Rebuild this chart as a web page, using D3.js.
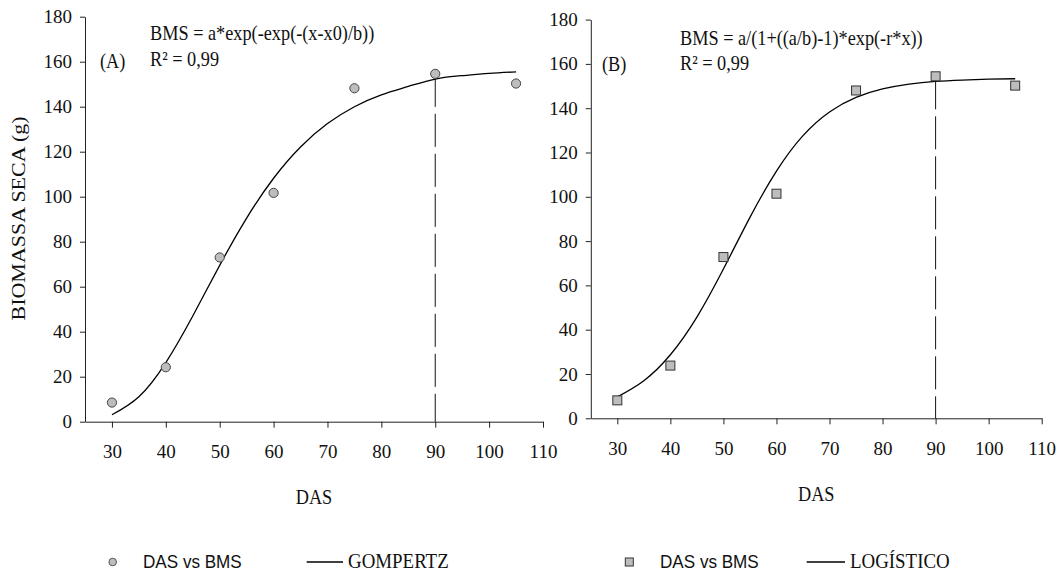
<!DOCTYPE html>
<html>
<head>
<meta charset="utf-8">
<script src="https://cdn.jsdelivr.net/npm/d3@7"></script>
<style>
  body { margin: 0; background: #fff; }
  svg { display: block; }
</style>
</head>
<body>
<svg id="drawing_region"></svg>
<script>
const das = [30, 40, 50, 60, 75, 90, 105];
const bmsA = [8.5, 24.2, 73.0, 101.7, 148.2, 154.6, 150.3];
const bmsB = [8.1, 23.8, 72.8, 101.4, 148.0, 154.4, 150.2];

// fitted curves, read every 5 days along the drawn line
const curveDas = [30, 35, 40, 45, 50, 55, 60, 65, 70, 75, 80, 85, 90, 95, 100, 105];
const gompertzBms = [3.1, 11.1, 26.3, 47.0, 69.5, 90.5, 108.2, 122.1, 132.5, 140.0, 145.3, 149.0, 152.3, 153.8, 154.8, 155.5];
const logisticBms = [9.7, 17.0, 28.7, 45.7, 67.4, 90.7, 111.6, 127.6, 138.3, 144.9, 148.7, 150.9, 152.1, 152.7, 153.1, 153.3];

const xTicks = [30, 40, 50, 60, 70, 80, 90, 100, 110];
const yTicks = [0, 20, 40, 60, 80, 100, 120, 140, 160, 180];

const SERIF = '"Liberation Serif", "Times New Roman", serif';
const SANS = '"Liberation Sans", Arial, sans-serif';

const svg = d3.select('#drawing_region')
  .attr('width', 1061)
  .attr('height', 574);

// text in the original is a bit narrow, squeeze it horizontally
function putText(g, str, x, y, opts) {
  opts = opts || {};
  return g.append('text')
    .attr('transform', `translate(${x},${y}) scale(${opts.sx || 0.87},1)`)
    .attr('font-family', opts.font || SERIF)
    .attr('font-size', opts.size || 21)
    .attr('text-anchor', opts.anchor || 'start')
    .attr('fill', '#111')
    .text(str);
}

class FitPanel {

  constructor( config, data ) {
    this.config = config;
    this.data = data;
    this.init();
  }

  init() {
    let self = this;

    self.g = svg.append('g');

    self.xscale = d3.scaleLinear()
      .domain([25, 110])
      .range(self.config.xrange);

    self.yscale = d3.scaleLinear()
      .domain([0, 180])
      .range(self.config.yrange);

    self.xaxis = d3.axisBottom(self.xscale)
      .tickValues(xTicks)
      .tickSizeInner(6)
      .tickSizeOuter(0)
      .tickPadding(17);

    self.yaxis = d3.axisLeft(self.yscale)
      .tickValues(yTicks)
      .tickSizeInner(5)
      .tickSizeOuter(0)
      .tickPadding(8);
  }

  render() {
    let self = this;
    const c = self.config;

    const xa = self.g.append('g')
      .attr('transform', `translate(0, ${c.yrange[0]})`)
      .call(self.xaxis);
    const ya = self.g.append('g')
      .attr('transform', `translate(${c.xrange[0]}, 0)`)
      .call(self.yaxis);

    [xa, ya].forEach(a => {
      a.attr('font-family', SERIF);
      a.selectAll('path, line').attr('stroke', '#222').attr('stroke-width', 1);
      a.selectAll('text')
        .attr('font-family', SERIF)
        .attr('font-size', 19)
        .attr('fill', '#111');
    });

    // dashed marker at 90 days
    const i90 = das.indexOf(90);
    self.g.append('line')
      .attr('x1', self.xscale(90))
      .attr('x2', self.xscale(90))
      .attr('y1', self.yscale(self.data.points[i90]))
      .attr('y2', self.yscale(0))
      .attr('stroke', '#111')
      .attr('stroke-width', 1)
      .attr('stroke-dasharray', '33,7');

    // fitted line
    const line = d3.line()
      .x((d, i) => self.xscale(curveDas[i]))
      .y(d => self.yscale(d))
      .curve(d3.curveNatural);

    self.g.append('path')
      .datum(self.data.curve)
      .attr('d', line)
      .attr('fill', 'none')
      .attr('stroke', '#000')
      .attr('stroke-width', 1.3);

    // observations
    const pts = das.map((d, i) => ({ x: d, y: self.data.points[i] }));
    if (c.marker === 'circle') {
      self.g.selectAll('.pt')
        .data(pts)
        .enter()
        .append('circle')
        .attr('cx', d => self.xscale(d.x))
        .attr('cy', d => self.yscale(d.y))
        .attr('r', 4.6)
        .attr('fill', '#bdbdbd')
        .attr('stroke', '#444')
        .attr('stroke-width', 1);
    } else {
      self.g.selectAll('.pt')
        .data(pts)
        .enter()
        .append('rect')
        .attr('x', d => self.xscale(d.x) - 4.5)
        .attr('y', d => self.yscale(d.y) - 4.5)
        .attr('width', 9)
        .attr('height', 9)
        .attr('fill', '#bdbdbd')
        .attr('stroke', '#333')
        .attr('stroke-width', 1);
    }

    // annotations
    putText(self.g, c.tag, c.tagPos[0], c.tagPos[1]);
    putText(self.g, c.equation, c.eqPos[0], c.eqPos[1]);
    putText(self.g, 'R² = 0,99', c.eqPos[0], c.eqPos[1] + c.lineGap);

    // x label
    putText(self.g, 'DAS', (c.xrange[0] + c.xrange[1]) / 2, c.xlabelY, { anchor: 'middle' });

    // legend
    const lg = c.legend;
    if (c.marker === 'circle') {
      self.g.append('circle')
        .attr('cx', lg.x).attr('cy', lg.y)
        .attr('r', 3.8)
        .attr('fill', '#bdbdbd').attr('stroke', '#555');
    } else {
      self.g.append('rect')
        .attr('x', lg.x - 4).attr('y', lg.y - 4)
        .attr('width', 8).attr('height', 8)
        .attr('fill', '#bdbdbd').attr('stroke', '#333');
    }
    putText(self.g, 'DAS vs BMS', lg.textX, lg.y + 6, { font: SANS, size: 19, sx: 0.9 });
    self.g.append('line')
      .attr('x1', lg.lineX[0]).attr('x2', lg.lineX[1])
      .attr('y1', lg.y).attr('y2', lg.y)
      .attr('stroke', '#000').attr('stroke-width', 1.3);
    putText(self.g, lg.name, lg.lineX[1] + 5, lg.y + 6, { size: 21, sx: 0.9 });
  }
}

const panelA = new FitPanel({
  xrange: [85, 543],
  yrange: [421.7, 16.7],
  marker: 'circle',
  tag: '(A)',
  tagPos: [100, 68],
  equation: 'BMS = a*exp(-exp(-(x-x0)/b))',
  eqPos: [150, 40],
  lineGap: 26,
  xlabelY: 504,
  legend: { x: 112.7, y: 562, textX: 143, lineX: [306.7, 343], name: 'GOMPERTZ' }
}, { points: bmsA, curve: gompertzBms });
panelA.render();

const panelB = new FitPanel({
  xrange: [590.8, 1041.7],
  yrange: [418.3, 19.6],
  marker: 'square',
  tag: '(B)',
  tagPos: [602, 71],
  equation: 'BMS = a/(1+((a/b)-1)*exp(-r*x))',
  eqPos: [680, 45],
  lineGap: 25,
  xlabelY: 501,
  legend: { x: 629.3, y: 562, textX: 660, lineX: [806.7, 845], name: 'LOGÍSTICO' }
}, { points: bmsB, curve: logisticBms });
panelB.render();

// shared y label
svg.append('text')
  .attr('transform', 'translate(25,218.5) rotate(-90) scale(1,0.85)')
  .attr('font-family', SERIF)
  .attr('font-size', 22)
  .attr('text-anchor', 'middle')
  .attr('fill', '#111')
  .text('BIOMASSA SECA (g)');
</script>
</body>
</html>
